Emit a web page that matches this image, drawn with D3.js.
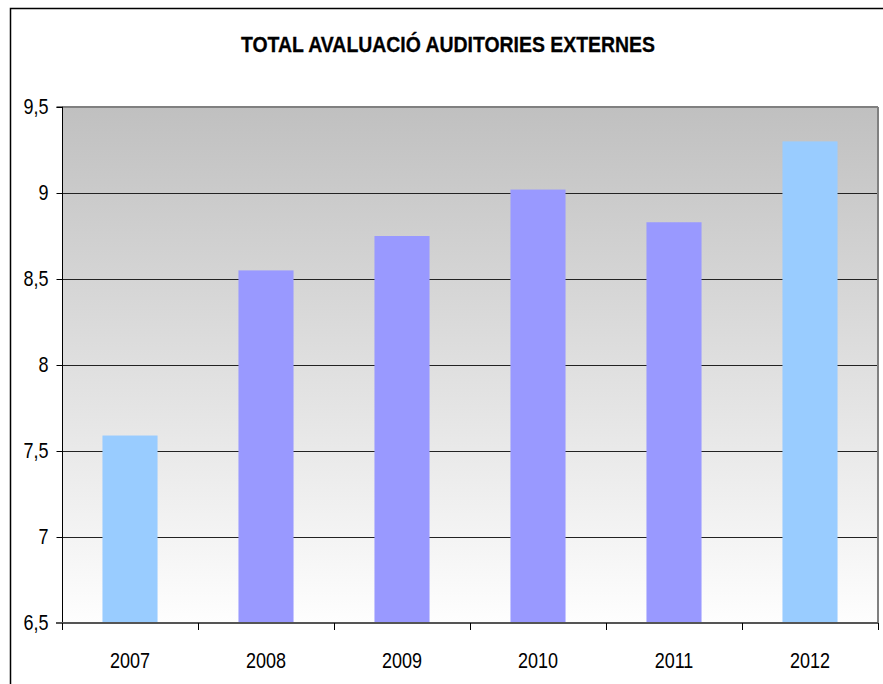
<!DOCTYPE html>
<html><head><meta charset="utf-8">
<script src="https://cdn.jsdelivr.net/npm/d3@7"></script>
<style>body{margin:0;background:#fff;}svg{display:block;}</style>
</head><body>
<script>
const categories = ["2007","2008","2009","2010","2011","2012"];
const values = [7.59, 8.55, 8.75, 9.02, 8.83, 9.30];
const colors = ["#99ccff","#9999ff","#9999ff","#9999ff","#9999ff","#99ccff"];
const yTicks = [6.5,7,7.5,8,8.5,9,9.5];
const title = "TOTAL AVALUACIÓ AUDITORIES EXTERNES";

const W=883,H=684;
const svg=d3.select("body").append("svg").attr("width",W).attr("height",H);
const m={l:62,r:878,t:107,b:623};
const x=d3.scaleBand().domain(categories).range([m.l,m.r]).paddingInner(0.595).paddingOuter(0.2975);
const xb=d3.scaleBand().domain(categories).range([m.l,m.r]);
const y=d3.scaleLinear().domain([6.5,9.5]).range([m.b,m.t]);

// outer border
svg.append("rect").attr("x",10.5).attr("y",8.5).attr("width",W).attr("height",H).attr("fill","none").attr("stroke","#000").attr("stroke-width",1.5);

const defs=svg.append("defs");
const g=defs.append("linearGradient").attr("id","bg").attr("x1",0).attr("y1",0).attr("x2",0).attr("y2",1);
g.append("stop").attr("offset","0%").attr("stop-color","#c0c0c0");
g.append("stop").attr("offset","100%").attr("stop-color","#fefefe");
svg.append("rect").attr("x",m.l).attr("y",m.t).attr("width",m.r-m.l).attr("height",m.b-m.t).attr("fill","url(#bg)");

// gridlines
svg.append("g").selectAll("line").data(yTicks.filter(d=>d>6.5&&d<9.5)).join("line")
 .attr("x1",m.l).attr("x2",m.r).attr("y1",d=>Math.round(y(d))+0.5).attr("y2",d=>Math.round(y(d))+0.5)
 .attr("stroke","#222").attr("stroke-width",1.2);
svg.append("line").attr("x1",m.l).attr("x2",m.r).attr("y1",m.t).attr("y2",m.t).attr("stroke","#808080").attr("stroke-width",2);
svg.append("line").attr("x1",m.r).attr("x2",m.r).attr("y1",m.t).attr("y2",m.b).attr("stroke","#808080").attr("stroke-width",2);

// bars
svg.append("g").selectAll("rect").data(categories).join("rect")
 .attr("x",d=>x(d)).attr("width",x.bandwidth())
 .attr("y",(d,i)=>y(values[i])).attr("height",(d,i)=>y(6.5)-y(values[i]))
 .attr("fill",(d,i)=>colors[i]);

const FF="Liberation Sans, Arial, sans-serif";
// y axis
const ya=svg.append("g").attr("transform",`translate(${m.l+0.5},0)`)
 .call(d3.axisLeft(y).tickValues(yTicks).tickSize(6).tickPadding(8).tickFormat(d=>String(d).replace(".",",")));
ya.select(".domain").attr("stroke","#000").attr("d",`M-6,${m.t}H0V${m.b}`);
ya.selectAll("line").attr("stroke","#000");
ya.selectAll("text").attr("font-family",FF).attr("font-size",18).attr("fill","#000")
 .attr("dy","0.3em").attr("transform","scale(1,1.2)");

// x axis
const xa=svg.append("g").attr("transform",`translate(0,${m.b})`)
 .call(d3.axisBottom(xb).tickSize(0).tickPadding(25));
xa.select(".domain").remove();
xa.selectAll("text").attr("font-family",FF).attr("font-size",18).attr("fill","#000").attr("transform","scale(1,1.2)");
svg.append("line").attr("x1",m.l-6).attr("x2",m.r).attr("y1",m.b).attr("y2",m.b).attr("stroke","#555").attr("stroke-width",2);
svg.append("g").selectAll("line").data(categories.concat(["end"])).join("line")
 .attr("x1",(d,i)=>m.l+i*xb.bandwidth()+0.5).attr("x2",(d,i)=>m.l+i*xb.bandwidth()+0.5)
 .attr("y1",m.b).attr("y2",m.b+7).attr("stroke","#000");

// title
svg.append("text").attr("x",448).attr("y",52).attr("text-anchor","middle")
 .attr("font-family",FF).attr("font-weight","bold").attr("font-size",22)
 .attr("stroke","#000").attr("stroke-width",0.3)
 .attr("textLength",414).attr("lengthAdjust","spacingAndGlyphs").text(title);
</script>
</body></html>
